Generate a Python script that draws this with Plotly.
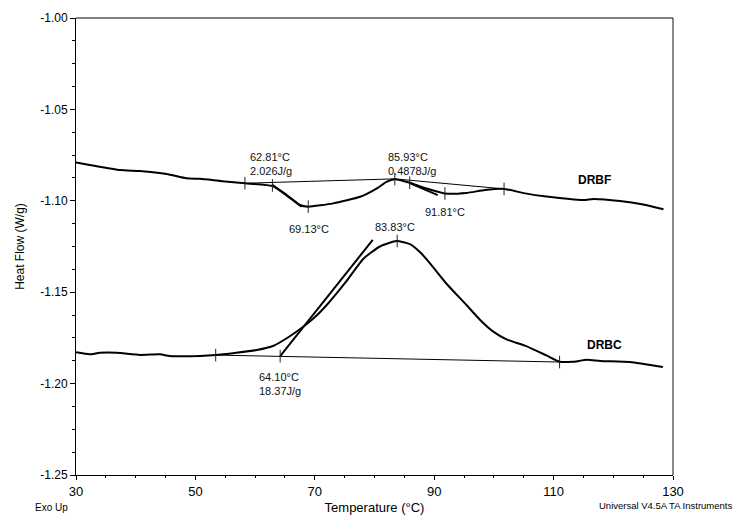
import plotly.graph_objects as go

# ---------------- data ----------------
drbf_t = [30, 32.3, 37.4, 40.7, 45.2, 48.5, 50.8, 54.5, 58.3, 62.9, 65.3, 67.5, 68.9, 73.1,
          77.6, 80.4, 82.0, 83.4, 85.9, 88.7, 91.8, 95.4, 98.5, 101.7, 105.0, 108.8, 115.0,
          116.7, 121.1, 125.0, 128.4]
drbf_y = [-1.0791, -1.0804, -1.0832, -1.0837, -1.0853, -1.0877, -1.0880, -1.0893, -1.0904,
          -1.0919, -1.0968, -1.1023, -1.1032, -1.1014, -1.0978, -1.0932, -1.0896, -1.0882,
          -1.0901, -1.0932, -1.0960, -1.0957, -1.0941, -1.0935, -1.0958, -1.0977, -1.0996,
          -1.0990, -1.1001, -1.1020, -1.1046]

drbc_t = [30, 32.3, 34.0, 36.8, 40.7, 44.1, 45.7, 50.8, 53.4, 60.3, 63.1, 65.3, 67.5, 69.8,
          72.0, 75.3, 78.1, 80.9, 83.7, 86.0, 87.6, 89.3, 92.1, 95.4, 97.7, 99.9, 102.1,
          105.5, 108.8, 111.0, 113.1, 115.6, 117.8, 122.8, 128.3]
drbc_y = [-1.1829, -1.1840, -1.1831, -1.1831, -1.1843, -1.1840, -1.1849, -1.1849, -1.1844,
          -1.1816, -1.1793, -1.1752, -1.1703, -1.1643, -1.1570, -1.1440, -1.1318, -1.1250,
          -1.1220, -1.1238, -1.1280, -1.1342, -1.1455, -1.1570, -1.1652, -1.1716, -1.1758,
          -1.1796, -1.1846, -1.1880, -1.1881, -1.1870, -1.1876, -1.1882, -1.1909]

# integration baselines and onset tangents
drbf_base1_t = [58.3, 83.4]
drbf_base1_y = [-1.0904, -1.0880]
drbf_base2_t = [83.4, 101.7]
drbf_base2_y = [-1.0880, -1.0935]
drbf_tan1_t = [62.9, 67.8]
drbf_tan1_y = [-1.0913, -1.1032]
drbf_tan2_t = [85.9, 90.6]
drbf_tan2_y = [-1.0903, -1.0969]
drbc_base_t = [53.4, 111.0]
drbc_base_y = [-1.1844, -1.1882]
drbc_tan_t = [64.2, 79.7]
drbc_tan_y = [-1.1850, -1.1214]

# analysis cursor marks
mark_t = [58.3, 62.9, 68.9, 83.4, 85.9, 91.8, 101.7, 53.4, 64.2, 83.8, 111.0]
mark_y = [-1.0904, -1.0916, -1.1032, -1.0881, -1.0901, -1.0960, -1.0935,
          -1.1844, -1.1850, -1.1220, -1.1882]

# annotation labels (text, T, heat flow)
labels = [
    ("62.81°C<br>2.026J/g", 62.6, -1.0796),
    ("85.93°C<br>0.4878J/g", 86.3, -1.0796),
    ("69.13°C", 69.0, -1.1154),
    ("91.81°C", 91.8, -1.1061),
    ("83.83°C", 83.5, -1.1143),
    ("64.10°C<br>18.37J/g", 64.2, -1.2002),
]
series_names = [("DRBF", 116.9, -1.0886), ("DRBC", 118.6, -1.1790)]

x_ticks = [30, 50, 70, 90, 110, 130]
y_ticks = [-1.25, -1.20, -1.15, -1.10, -1.05, -1.00]

# ---------------- figure ----------------
FONT = "Liberation Sans, Arial"
fig = go.Figure()
thick = dict(color="black", width=2)
thin = dict(color="black", width=1)

fig.add_trace(go.Scatter(x=drbf_t, y=drbf_y, mode="lines", line=dict(shape="spline", smoothing=0.5, **thick)))
fig.add_trace(go.Scatter(x=drbc_t, y=drbc_y, mode="lines", line=dict(shape="spline", smoothing=0.5, **thick)))
for tx, ty, ln in [(drbf_base1_t, drbf_base1_y, thin), (drbf_base2_t, drbf_base2_y, thin),
                   (drbc_base_t, drbc_base_y, thin), (drbf_tan1_t, drbf_tan1_y, thick),
                   (drbf_tan2_t, drbf_tan2_y, thick), (drbc_tan_t, drbc_tan_y, thick)]:
    fig.add_trace(go.Scatter(x=tx, y=ty, mode="lines", line=ln))
fig.add_trace(go.Scatter(x=mark_t, y=mark_y, mode="markers",
                         marker=dict(symbol="line-ns", size=9, line=dict(color="#222", width=1))))

for txt, tx, ty in labels:
    fig.add_annotation(x=tx, y=ty, text=txt, showarrow=False, align="left",
                       font=dict(family=FONT, size=11, color="#111"))
for txt, tx, ty in series_names:
    fig.add_annotation(x=tx, y=ty, text="<b>" + txt + "</b>", showarrow=False,
                       font=dict(family=FONT, size=12, color="black"))

fig.add_annotation(xref="paper", yref="paper", x=-0.072, y=-0.072, text="Exo Up", showarrow=False,
                   xanchor="left", yanchor="middle", font=dict(family=FONT, size=10))
fig.add_annotation(xref="paper", yref="paper", x=1.102, y=-0.066, text="Universal V4.5A TA Instruments",
                   showarrow=False, xanchor="right", yanchor="middle",
                   font=dict(family=FONT, size=9.5))

# grey right frame line, black top frame line
fig.add_shape(type="line", xref="paper", yref="paper", x0=1, x1=1, y0=0, y1=1,
              line=dict(color="#8a8a8a", width=2))
fig.add_shape(type="line", xref="paper", yref="paper", x0=0, x1=1, y0=1, y1=1,
              line=dict(color="black", width=1))

fig.update_layout(
    width=740, height=520, showlegend=False,
    margin=dict(l=76, r=67, t=18, b=45, autoexpand=False),
    plot_bgcolor="white", paper_bgcolor="white",
    font=dict(family=FONT, color="black"),
    xaxis=dict(range=[30, 130], tickvals=x_ticks, ticktext=[str(v) for v in x_ticks],
               automargin=False,
               showgrid=False, zeroline=False, showline=True, linecolor="black", linewidth=1,
               ticks="outside", ticklen=4, tickcolor="black",
               tickfont=dict(size=13), minor=dict(dtick=5, ticks="outside", ticklen=2, tickcolor="black"),
               title=dict(text="Temperature (°C)", font=dict(size=13), standoff=5)),
    yaxis=dict(range=[-1.25, -1.00], tickvals=y_ticks, ticktext=["%.2f" % v for v in y_ticks],
               automargin=False,
               showgrid=False, zeroline=False, showline=True, linecolor="black", linewidth=1,
               ticks="outside", ticklen=5, tickcolor="black", tickfont=dict(size=12),
               minor=dict(dtick=0.0125, ticks="outside", ticklen=3, tickcolor="black"),
               title=dict(text="Heat Flow (W/g)", font=dict(size=12), standoff=13)),
)

fig.write_html("out.html")
